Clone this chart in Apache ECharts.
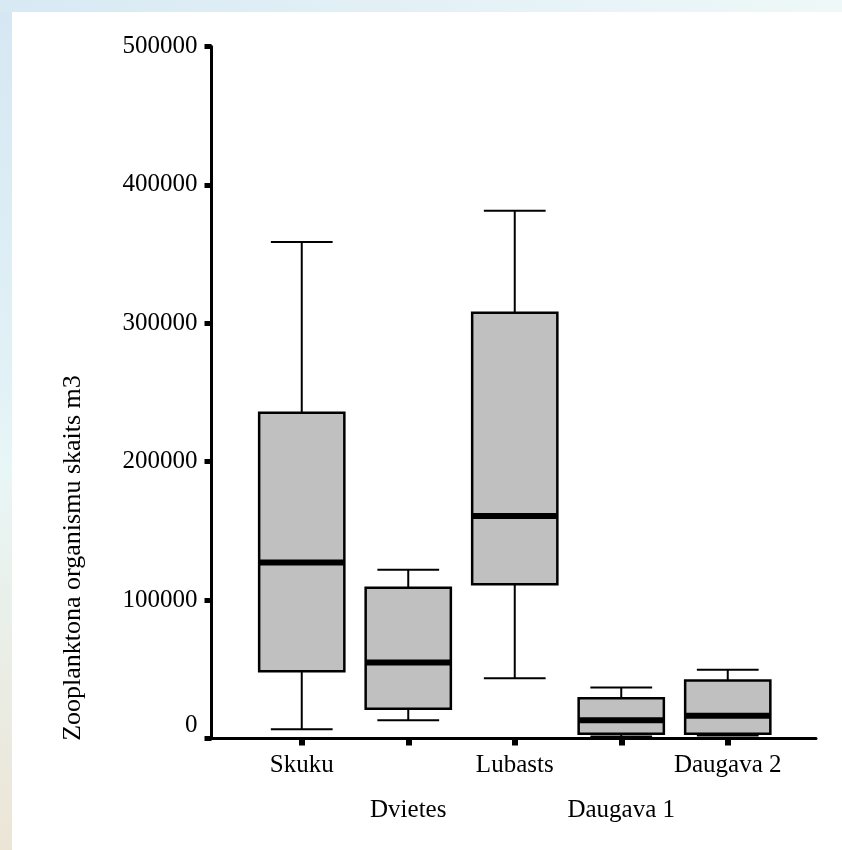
<!DOCTYPE html>
<html>
<head>
<meta charset="utf-8">
<script src="https://cdn.jsdelivr.net/npm/echarts@6/dist/echarts.min.js"></script>
<style>
html,body{margin:0;padding:0;background:#fff;}
#chart{width:842px;height:850px;}
</style>
</head>
<body>
<div id="chart"></div>
<script>
const categories = ['Skuku', 'Dvietes', 'Lubasts', 'Daugava 1', 'Daugava 2'];
const mins    = [6600,   13200,  43500,  1500,  2200];
const q1s     = [48600,  21500,  111400, 3500,  3500];
const medians = [127100, 54900,  160800, 13200, 16400];
const q3s     = [235400, 109000, 307600, 29000, 41900];
const maxs    = [358700, 122000, 381400, 36800, 49700];
const yTicks  = [0, 100000, 200000, 300000, 400000, 500000];
const yTitle  = 'Zooplanktona organismu skaits m3';

const FONT = '"Liberation Serif", "Times New Roman", serif';
const boxData = categories.map((c, i) => [i, mins[i], q1s[i], medians[i], q3s[i], maxs[i]]);

const chart = echarts.init(document.getElementById('chart'));
chart.setOption({
  backgroundColor: '#ffffff',
  animation: false,
  graphic: [
    { type: 'rect', z: -100, silent: true, shape: { x: 0, y: 0, width: 842, height: 850 },
      style: { fill: { type: 'linear', x: 0, y: 0, x2: 0, y2: 1, colorStops: [
        { offset: 0, color: '#d6e7f3' }, { offset: 0.45, color: '#e2f1f6' },
        { offset: 0.55, color: '#e8f6f6' }, { offset: 1, color: '#ece5d6' }] } } },
    { type: 'rect', z: -99, silent: true, shape: { x: 0, y: 0, width: 842, height: 12 },
      style: { fill: { type: 'linear', x: 0, y: 0, x2: 1, y2: 0, colorStops: [
        { offset: 0, color: '#d8e9f4' }, { offset: 1, color: '#eef8f8' }] } } },
    { type: 'rect', z: -98, silent: true, shape: { x: 12, y: 12, width: 830, height: 838 },
      style: { fill: '#ffffff' } },
    { type: 'text', x: 73, y: 558, rotation: Math.PI / 2, silent: true,
      style: { text: yTitle, font: '26px ' + FONT, fill: '#000',
        align: 'center', verticalAlign: 'middle', textAlign: 'center', textVerticalAlign: 'middle' } }
  ],
  grid: [
    { left: 248.5, right: 61, top: 46.5, bottom: 111.5 },
    { left: 211.5, right: 26, top: 46.5, bottom: 111.5 }
  ],
  xAxis: [
    {
      type: 'category', gridIndex: 0, data: categories,
      axisLine: { show: false },
      axisTick: { show: true, alignWithLabel: true, length: 7, lineStyle: { color: '#000', width: 6 } },
      axisLabel: {
        margin: 14, color: '#000', fontFamily: FONT, fontSize: 25, interval: 0,
        formatter: (v, i) => (i % 2 === 1 ? '{b|' + v + '}' : '{a|' + v + '}'),
        rich: {
          a: { fontFamily: FONT, fontSize: 25, color: '#000' },
          b: { fontFamily: FONT, fontSize: 25, color: '#000', padding: [45, 0, 0, 0] }
        }
      },
      splitLine: { show: false }
    },
    {
      type: 'value', gridIndex: 1, min: 0, max: 1,
      axisLine: { show: true, onZero: false, lineStyle: { color: '#000', width: 3 } },
      axisTick: { show: false }, axisLabel: { show: false }, splitLine: { show: false }
    }
  ],
  yAxis: [
    {
      type: 'value', gridIndex: 0, min: 0, max: 500000, interval: 100000, offset: 37,
      axisLine: { show: true, lineStyle: { color: '#000', width: 3 } },
      axisTick: { show: true, length: 7, lineStyle: { color: '#000', width: 5 } },
      axisLabel: {
        margin: 14, color: '#000', fontFamily: FONT, fontSize: 25,
        customValues: yTicks,
        formatter: v => (v === 0 ? '{z|0}' : String(v)),
        rich: { z: { fontFamily: FONT, fontSize: 25, color: '#000', padding: [0, 0, 26, 0] } }
      },
      splitLine: { show: false }
    },
    { type: 'value', gridIndex: 1, show: false, min: 0, max: 1 }
  ],
  series: [{
    type: 'custom',
    xAxisIndex: 0, yAxisIndex: 0,
    data: boxData,
    encode: { x: 0, y: [1, 2, 3, 4, 5] },
    renderItem: function (params, api) {
      const i = api.value(0);
      const lo = api.coord([i, api.value(1)]);
      const q1 = api.coord([i, api.value(2)]);
      const md = api.coord([i, api.value(3)]);
      const q3 = api.coord([i, api.value(4)]);
      const hi = api.coord([i, api.value(5)]);
      const band = api.size([1, 0])[0];
      const bw = band * 0.8, cw = band * 0.58;
      const cx = lo[0];
      const ls = { stroke: '#000', lineWidth: 2 };
      return {
        type: 'group',
        children: [
          { type: 'line', shape: { x1: cx, y1: hi[1], x2: cx, y2: q3[1] }, style: ls },
          { type: 'line', shape: { x1: cx, y1: q1[1], x2: cx, y2: lo[1] }, style: ls },
          { type: 'line', shape: { x1: cx - cw / 2, y1: hi[1], x2: cx + cw / 2, y2: hi[1] }, style: ls },
          { type: 'line', shape: { x1: cx - cw / 2, y1: lo[1], x2: cx + cw / 2, y2: lo[1] }, style: ls },
          { type: 'rect', shape: { x: cx - bw / 2, y: q3[1], width: bw, height: q1[1] - q3[1] },
            style: { fill: '#c0c0c0', stroke: '#000', lineWidth: 2.5 } },
          { type: 'line', shape: { x1: cx - bw / 2, y1: md[1], x2: cx + bw / 2, y2: md[1] },
            style: { stroke: '#000', lineWidth: 6 } }
        ]
      };
    }
  }]
});
</script>
</body>
</html>
